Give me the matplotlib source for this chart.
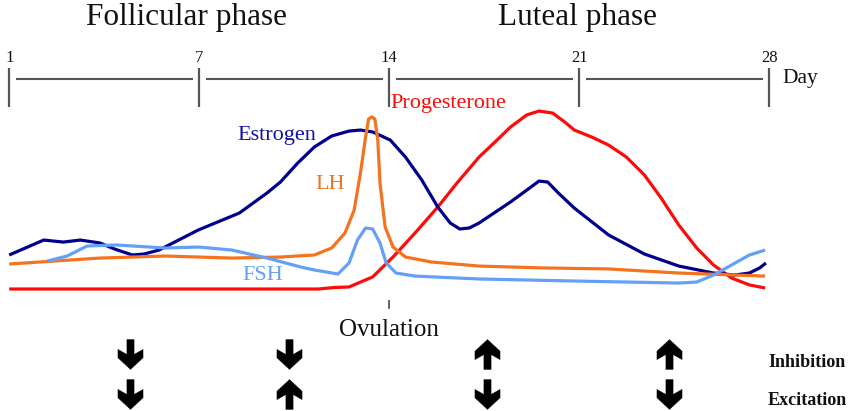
import numpy as np
import matplotlib
matplotlib.use("Agg")
import matplotlib.pyplot as plt
from matplotlib.path import Path

# ---------------- data ----------------
tick_days = [1, 7, 14, 21, 28]

estrogen_day = [0.97, 2.09, 2.71, 3.24, 3.86, 4.33, 4.89, 5.26, 5.73, 6.97, 8.48, 9.50,
                9.99, 10.63, 11.24, 11.88, 12.52, 12.94, 13.39, 14.04, 14.60, 15.20, 15.79,
                16.25, 16.60, 16.95, 17.31, 18.47, 19.07, 19.52, 19.84, 20.23, 20.82, 22.08,
                23.40, 24.67, 25.95, 26.72, 27.27, 27.65, 27.88]
estrogen_lvl = [20.0, 28.8, 27.6, 28.8, 27.1, 23.5, 20.0, 20.6, 22.9, 34.7, 44.7, 56.5,
                62.9, 74.1, 83.5, 90.0, 92.9, 93.5, 92.4, 87.6, 77.6, 64.1, 48.2,
                38.8, 35.3, 35.9, 38.8, 51.2, 58.2, 63.5, 62.9, 56.5, 47.6, 31.8,
                20.6, 13.5, 9.4, 8.2, 9.4, 12.4, 15.3]

lh_day = [0.97, 3.86, 5.94, 8.21, 9.99, 11.24, 11.88, 12.37, 12.71, 12.94, 13.13, 13.24,
          13.36, 13.47, 13.58, 13.66, 13.85, 14.14, 14.60, 15.55, 17.31, 19.66, 22.08,
          24.67, 27.85]
lh_lvl = [14.7, 18.2, 19.4, 18.2, 18.8, 20.0, 24.1, 32.9, 46.5, 68.2, 89.4, 100.0,
          101.2, 100.0, 87.6, 62.4, 36.5, 24.7, 18.8, 15.9, 13.5, 12.4, 11.8,
          9.4, 7.6]

fsh_day = [2.21, 2.83, 3.46, 4.39, 5.94, 6.97, 8.21, 9.50, 10.75, 11.24, 12.11, 12.52,
           12.83, 13.13, 13.39, 13.66, 13.89, 14.25, 14.95, 17.31, 20.82, 24.67, 25.33,
           25.95, 26.61, 27.27, 27.85]
fsh_lvl = [16.5, 19.4, 25.3, 25.9, 24.1, 24.7, 22.9, 18.2, 12.9, 11.2, 8.8, 15.3,
           28.8, 35.9, 35.3, 27.1, 15.3, 9.4, 7.6, 5.9, 4.7, 3.5, 4.1,
           8.2, 14.1, 20.0, 22.9]

prog_day = [1.0, 11.39, 11.99, 12.52, 13.39, 14.14, 14.95, 15.79, 16.50, 17.31, 17.90,
            18.47, 19.07, 19.52, 20.02, 20.47, 20.82, 21.46, 22.08, 22.74, 23.40, 24.02,
            24.67, 25.33, 25.95, 26.61, 27.27, 27.85]
prog_lvl = [0, 0, 0.9, 1.2, 7.1, 18.8, 32.9, 48.2, 62.4, 77.6, 86.5,
            95.3, 102.4, 104.7, 103.5, 98.2, 93.5, 89.4, 84.7, 77.6, 67.1, 53.5,
            37.6, 24.1, 14.1, 6.5, 2.4, 0.6]

ovulation_day = 14
arrow_days = [4.8, 10.3, 17.6, 24.3]
inhibition_dir = ["down", "down", "up", "up"]
excitation_dir = ["down", "up", "down", "down"]

C_PROG = "#ff0a0a"
C_EST = "#00008c"
C_LH = "#f5731e"
C_FSH = "#64a0f5"
C_AXIS = "#555555"
SERIF = "Liberation Serif"

# ---------------- figure ----------------
W, H = 850, 411
fig = plt.figure(figsize=(W / 100, H / 100), dpi=100)
ax = fig.add_axes([0, 0, 1, 1])
ax.axis("off")
ax.set_xlim(-9.2 / 190, (W - 9.2) / 190)
ax.set_ylim(-71.76, 170)

seg = np.arange(len(tick_days))


def pos(days):
    return np.interp(days, tick_days, seg)


def ftext(px, py, s, **kw):
    fig.text(px / W, 1 - py / H, s, family=SERIF, **kw)


# hormone curves
lw = 2.3
for d, v, c in [(prog_day, prog_lvl, C_PROG), (estrogen_day, estrogen_lvl, C_EST),
                (lh_day, lh_lvl, C_LH), (fsh_day, fsh_lvl, C_FSH)]:
    ax.plot(pos(d), v, color=c, lw=lw, solid_joinstyle="round", solid_capstyle="butt")

# day timeline (x in data, y in axes fraction)
tr = ax.get_xaxis_transform()
gap = 0.035
for a, b in zip(seg[:-1], seg[1:]):
    ax.plot([a + gap, b - gap], [0.8078, 0.8078], color=C_AXIS, lw=1.5, transform=tr,
            solid_capstyle="butt")
for p, d in zip(seg, tick_days):
    ax.plot([p, p], [0.7397, 0.8345], color=C_AXIS, lw=1.6, transform=tr, solid_capstyle="butt")
    ax.text(p, 1 - 62 / H, str(d), transform=tr, ha="center", va="baseline",
            family=SERIF, fontsize=12, color="#111111")

ftext(782, 83, "Day", fontsize=15.5, ha="left", va="baseline", color="#111111")

# ovulation marker
po = pos(ovulation_day)
ax.plot([po, po], [0.2506, 0.2676], color=C_AXIS, lw=1.3, transform=tr)
ax.text(po, 1 - 336 / H, "Ovulation", transform=tr, ha="center", va="baseline",
        family=SERIF, fontsize=18, color="#111111")

# phase titles
ftext(186, 25, "Follicular phase", fontsize=22.5, ha="center", va="baseline", color="#111111")
ftext(578, 25, "Luteal phase", fontsize=22.5, ha="center", va="baseline", color="#111111")

# curve labels
ftext(390, 108, "Progesterone", fontsize=16, ha="left", va="baseline", color=C_PROG)
ftext(237, 140, "Estrogen", fontsize=16, ha="left", va="baseline", color="#1212a8")
ftext(315, 189, "LH", fontsize=16, ha="left", va="baseline", color=C_LH)
ftext(242, 280, "FSH", fontsize=16, ha="left", va="baseline", color=C_FSH)

# arrows
down_verts = [(-0.12, 0.5), (0.12, 0.5), (0.12, 0.0), (0.42, 0.17), (0.42, -0.11),
              (0.0, -0.5), (-0.42, -0.11), (-0.42, 0.17), (-0.12, 0.0), (-0.12, 0.5)]
down_path = Path(down_verts, closed=True)
up_path = Path([(x, -y) for x, y in down_verts], closed=True)
markers = {"down": down_path, "up": up_path}

for dirs, yfrac in [(inhibition_dir, 1 - 354 / H), (excitation_dir, 1 - 394 / H)]:
    for day, dr in zip(arrow_days, dirs):
        ax.plot([pos(day)], [yfrac], linestyle="none", marker=markers[dr], ms=21.5,
                color="black", mec="black", mew=0.3, transform=tr)

ftext(768, 367, "Inhibition", fontsize=13, fontweight="bold", ha="left", va="baseline", color="#111111")
ftext(768, 405, "Excitation", fontsize=13, fontweight="bold", ha="left", va="baseline", color="#111111")

fig.savefig("out.png", dpi=100, facecolor="white")
